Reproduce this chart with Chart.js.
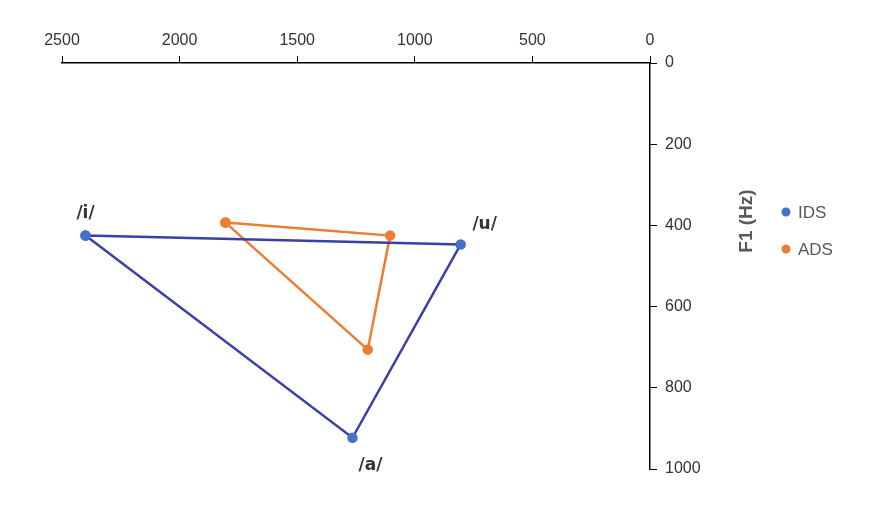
<!DOCTYPE html>
<html>
<head>
<meta charset="utf-8">
<script src="https://cdn.jsdelivr.net/npm/chart.js@4/dist/chart.umd.min.js"></script>
<style>
  body { margin: 0; background: #fff; }
  #wrap { width: 877px; height: 511px; }
</style>
</head>
<body>
<div id="wrap"><canvas id="vowelChart"></canvas></div>
<script>
// F2 / F1 formant values (Hz), triangle closed back to first vowel
const vowels = ['/i/', '/u/', '/a/'];
const idsF2 = [2400, 805, 1265];
const idsF1 = [425, 447, 923];
const adsF2 = [1805, 1105, 1200];
const adsF1 = [393, 425, 706];
const xTicks = [2500, 2000, 1500, 1000, 500, 0];
const yTicks = [0, 200, 400, 600, 800, 1000];

function closedTriangle(f2, f1) {
    const pts = f2.map((x, i) => ({ x: x, y: f1[i] }));
    pts.push({ ...pts[0] });
    return pts;
}

const labelOffsets = [[0, -22], [24, -20], [18, 28]];

const extras = {
    id: 'extras',
    afterDraw(chart) {
        const ctx = chart.ctx;
        const xs = chart.scales.x, ys = chart.scales.y;
        ctx.save();
        // vowel labels next to IDS corners
        ctx.fillStyle = '#333';
        ctx.font = 'bold 17px "DejaVu Sans", Arial, sans-serif';
        ctx.textAlign = 'center';
        ctx.textBaseline = 'middle';
        vowels.forEach((v, i) => {
            const px = xs.getPixelForValue(idsF2[i]);
            const py = ys.getPixelForValue(idsF1[i]);
            ctx.fillText(v, px + labelOffsets[i][0], py + labelOffsets[i][1]);
        });
        // axis title
        ctx.save();
        ctx.translate(747, 221);
        ctx.rotate(-Math.PI / 2);
        ctx.fillStyle = '#595959';
        ctx.font = 'bold 19px "Liberation Sans", Arial, sans-serif';
        ctx.fillText('F1 (Hz)', 0, 0);
        ctx.restore();
        // legend
        const items = [['IDS', '#4472c4'], ['ADS', '#ed7d31']];
        ctx.font = '17px "Liberation Sans", Arial, sans-serif';
        ctx.textAlign = 'left';
        items.forEach((it, i) => {
            const y = 212 + i * 37;
            ctx.fillStyle = it[1];
            ctx.beginPath();
            ctx.arc(786, y, 4.5, 0, Math.PI * 2);
            ctx.fill();
            ctx.fillStyle = '#595959';
            ctx.fillText(it[0], 798, y + 1);
        });
        ctx.restore();
    }
};

const tickFont = { size: 16, family: '"Liberation Sans", Arial, sans-serif' };

new Chart(document.getElementById('vowelChart'), {
    type: 'scatter',
    data: {
        datasets: [{
            label: 'IDS',
            data: closedTriangle(idsF2, idsF1),
            showLine: true,
            borderColor: '#3b3fa8',
            borderWidth: 2.5,
            pointBackgroundColor: '#4472c4',
            pointBorderColor: '#4472c4',
            pointRadius: 4
        }, {
            label: 'ADS',
            data: closedTriangle(adsF2, adsF1),
            showLine: true,
            borderColor: '#ed7d31',
            borderWidth: 2.5,
            pointBackgroundColor: '#ed7d31',
            pointBorderColor: '#ed7d31',
            pointRadius: 4
        }]
    },
    options: {
        responsive: true,
        maintainAspectRatio: false,
        animation: false,
        layout: { padding: { left: 62, top: 0, right: 0, bottom: 42 } },
        plugins: { legend: { display: false }, tooltip: { enabled: false } },
        scales: {
            x: {
                type: 'linear', position: 'top', reverse: true,
                min: 0, max: 2500,
                afterBuildTicks: s => { s.ticks = xTicks.map(v => ({ value: v })); },
                afterFit: s => { s.height = 63; },
                grid: { drawOnChartArea: false, tickLength: 7, color: '#000' },
                border: { color: '#000', width: 1.5 },
                ticks: { color: '#333', font: tickFont, maxRotation: 0, padding: 6, callback: v => String(v) }
            },
            y: {
                type: 'linear', position: 'right', reverse: true,
                min: 0, max: 1000,
                afterBuildTicks: s => { s.ticks = yTicks.map(v => ({ value: v })); },
                afterFit: s => { s.width = 227; },
                grid: { drawOnChartArea: false, tickLength: 7, color: '#000' },
                border: { color: '#000', width: 1.5 },
                ticks: { color: '#333', font: tickFont, padding: 8, callback: v => String(v) }
            }
        }
    },
    plugins: [extras]
});
</script>
</body>
</html>
